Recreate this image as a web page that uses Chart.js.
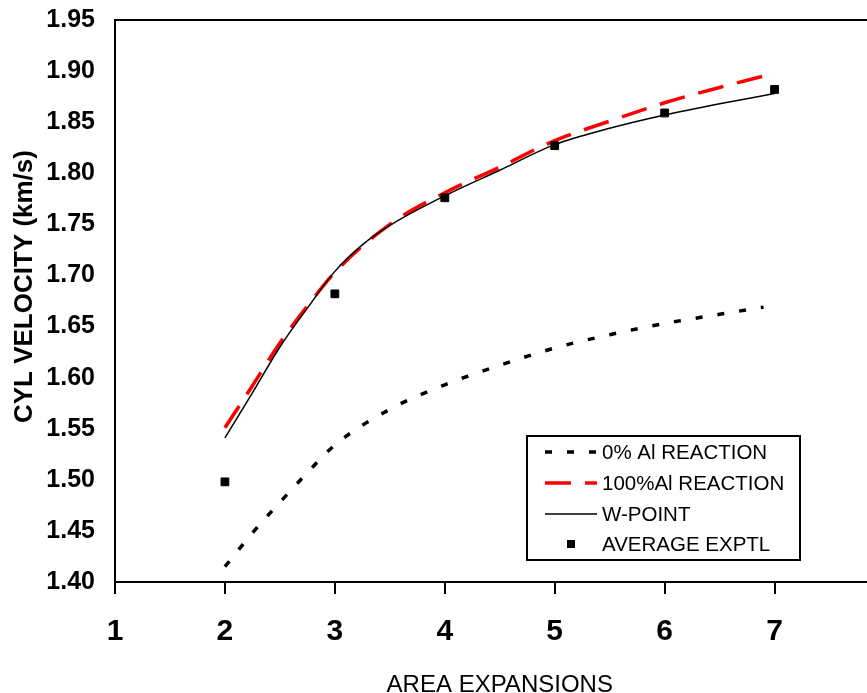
<!DOCTYPE html>
<html><head><meta charset="utf-8">
<script src="https://cdn.jsdelivr.net/npm/chart.js@4/dist/chart.umd.min.js"></script>
<style>
html,body{margin:0;padding:0;background:#fff;overflow:hidden;}
#wrap{width:867px;height:693px;overflow:hidden;position:relative;background:#fff;}
canvas{display:block;}
</style></head><body>
<div id="wrap"><canvas id="c" width="891" height="693"></canvas></div>
<script>
// ---- data ----
const xTicks = [1, 2, 3, 4, 5, 6, 7];
const yTicks = [1.40, 1.45, 1.50, 1.55, 1.60, 1.65, 1.70, 1.75, 1.80, 1.85, 1.90, 1.95];

const seriesLabels = ['0% Al REACTION', '100%Al REACTION', 'W-POINT', 'AVERAGE EXPTL'];

const noReactX = [2, 2.25, 2.5, 2.75, 3, 3.5, 4, 4.5, 5, 5.5, 6, 6.5, 6.9];
const noReactV = [1.415, 1.448, 1.478, 1.507, 1.534, 1.569, 1.593, 1.612, 1.629, 1.642, 1.653, 1.662, 1.669];

const fullReactX = [2, 2.25, 2.5, 2.75, 3, 3.5, 4, 4.5, 5, 5.5, 6, 6.5, 6.97];
const fullReactV = [1.551, 1.592, 1.634, 1.670, 1.703, 1.750, 1.781, 1.806, 1.832, 1.851, 1.869, 1.884, 1.897];

const wPointX = [2, 2.25, 2.5, 2.75, 3, 3.25, 3.5, 4, 4.5, 5, 5.5, 6, 6.5, 7];
const wPointV = [1.541, 1.585, 1.630, 1.668, 1.704, 1.730, 1.749, 1.778, 1.803, 1.828, 1.844, 1.857, 1.868, 1.878];

const exptlX = [2, 3, 4, 5, 6, 7];
const exptlV = [1.498, 1.682, 1.776, 1.827, 1.859, 1.882];

const pts = (xs, vs) => xs.map((x, i) => ({x: x, y: vs[i]}));

const FAM = '"Liberation Sans", Arial, Helvetica, sans-serif';
Chart.defaults.font.family = FAM;
Chart.defaults.color = '#000';

const boxLegend = {
  id: 'boxLegend',
  afterDraw(chart) {
    const ctx = chart.ctx;
    const a = chart.chartArea;
    const L = a.left + 412, T = a.top + 416, W = 273, H = 124;
    ctx.save();
    ctx.fillStyle = '#fff';
    ctx.fillRect(L, T, W, H);
    ctx.strokeStyle = '#000';
    ctx.lineWidth = 2;
    ctx.strokeRect(L, T, W, H);
    const rowY = [16, 47, 78, 108];
    const sx0 = L + 18, sx1 = L + 70, tx = L + 75;
    chart.data.datasets.forEach((ds, i) => {
      const y = T + rowY[i];
      if (ds.showLine === false) {
        const s = 8;
        ctx.fillStyle = ds.backgroundColor;
        ctx.fillRect((sx0 + sx1) / 2 - s / 2, y - s / 2, s, s);
      } else {
        ctx.beginPath();
        ctx.setLineDash(ds.borderDash || []);
        ctx.strokeStyle = ds.borderColor;
        ctx.lineWidth = ds.borderWidth;
        ctx.moveTo(sx0, y);
        ctx.lineTo(sx1, y);
        ctx.stroke();
        ctx.setLineDash([]);
      }
      ctx.fillStyle = '#000';
      ctx.font = '20.5px ' + FAM;
      ctx.textBaseline = 'middle';
      ctx.textAlign = 'left';
      ctx.fillText(ds.label, tx, y + 1);
    });
    ctx.restore();
  }
};

const noPad = s => { s.paddingTop = 0; s.paddingBottom = 0; s.paddingLeft = 0; s.paddingRight = 0; };

new Chart(document.getElementById('c'), {
  type: 'line',
  data: {
    datasets: [
      {label: seriesLabels[0], data: pts(noReactX, noReactV), borderColor: '#000', borderWidth: 3.5,
       borderDash: [7, 15], pointRadius: 0, cubicInterpolationMode: 'monotone', fill: false, order: 3},
      {label: seriesLabels[1], data: pts(fullReactX, fullReactV), borderColor: '#ff0000', borderWidth: 3.5,
       borderDash: [26, 14], pointRadius: 0, cubicInterpolationMode: 'monotone', fill: false, order: 2},
      {label: seriesLabels[2], data: pts(wPointX, wPointV), borderColor: '#000', borderWidth: 1.5,
       pointRadius: 0, cubicInterpolationMode: 'monotone', fill: false, order: 1},
      {label: seriesLabels[3], data: pts(exptlX, exptlV), showLine: false, pointStyle: 'rect',
       pointRadius: 5.5, backgroundColor: '#000', borderColor: '#000', borderWidth: 1, order: 0}
    ]
  },
  options: {
    responsive: false,
    animation: false,
    devicePixelRatio: 1,
    layout: {padding: 0},
    plugins: {legend: {display: false}, tooltip: {enabled: false}},
    scales: {
      x: {
        type: 'linear', position: 'bottom', min: 1, max: 8,
        afterBuildTicks: s => { s.ticks = xTicks.map(v => ({value: v})); },
        afterFit: s => { s.height = 111; noPad(s); },
        grid: {display: true, drawOnChartArea: false, drawTicks: true, tickLength: 12, color: '#000', lineWidth: 2},
        border: {display: true, color: '#000', width: 2},
        ticks: {font: {size: 30, weight: 'bold'}, color: '#000', padding: 20, maxRotation: 0,
                callback: v => String(v)},
        title: {display: true, text: 'AREA EXPANSIONS', color: '#000',
                font: {size: 24, lineHeight: 0.6}, padding: {top: 0, bottom: 0}}
      },
      xTop: {
        type: 'linear', position: 'top', min: 1, max: 8,
        afterFit: s => { s.height = 20; noPad(s); },
        grid: {display: false, drawTicks: false},
        ticks: {display: false},
        border: {display: true, color: '#000', width: 2}
      },
      y: {
        type: 'linear', position: 'left', min: 1.40, max: 1.95,
        afterBuildTicks: s => { s.ticks = yTicks.map(v => ({value: v})); },
        afterFit: s => { s.width = 115; noPad(s); },
        grid: {display: false, drawTicks: false},
        border: {display: true, color: '#000', width: 2},
        ticks: {font: {size: 25, weight: 'bold'}, color: '#000', padding: 20,
                callback: v => Number(v).toFixed(2)},
        title: {display: true, text: '    CYL VELOCITY (km/s)', color: '#000',
                font: {size: 26, weight: 'bold', lineHeight: 1.2}, padding: {top: 9, bottom: 0}}
      }
    }
  },
  plugins: [boxLegend]
});
</script>
</body></html>
